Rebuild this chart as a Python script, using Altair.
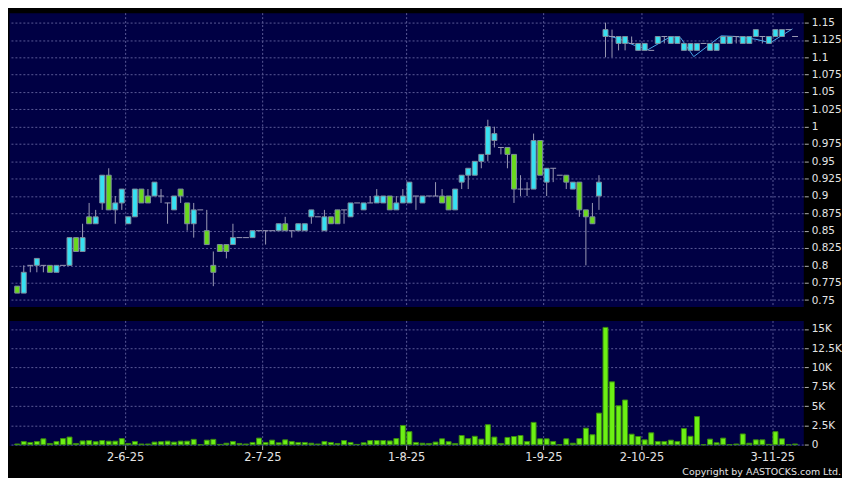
import altair as alt
import pandas as pd

# ---------------- data ----------------
opens = [0.77, 0.76, 0.80, 0.80, 0.80, 0.80, 0.79, 0.80, 0.80, 0.84,
         0.82, 0.87, 0.86, 0.89, 0.93, 0.88, 0.89, 0.86, 0.87, 0.91,
         0.90, 0.90, 0.90, 0.89, 0.88, 0.91, 0.89, 0.86, 0.88, 0.85,
         0.80, 0.83, 0.83, 0.83, 0.84, 0.84, 0.84, 0.85, 0.85, 0.85,
         0.85, 0.86, 0.85, 0.85, 0.85, 0.87, 0.87, 0.85, 0.87, 0.88,
         0.88, 0.87, 0.89, 0.88, 0.89, 0.89, 0.89, 0.90, 0.88, 0.89,
         0.89, 0.90, 0.89, 0.90, 0.90, 0.90, 0.90, 0.88, 0.92, 0.93,
         0.93, 0.95, 0.96, 0.98, 0.97, 0.97, 0.96, 0.91, 0.91, 0.91,
         0.98, 0.92, 0.94, 0.93, 0.93, 0.91, 0.92, 0.88, 0.87, 0.90,
         1.13, 1.13, 1.12, 1.12, 1.12, 1.11, 1.11, 1.11, 1.12, 1.13,
         1.12, 1.12, 1.11, 1.11, 1.11, 1.12, 1.11, 1.11, 1.12, 1.12,
         1.13, 1.12, 1.12, 1.13, 1.13, 1.12, 1.13, 1.13, 1.14, 1.13]
closes = [0.76, 0.79, 0.80, 0.81, 0.80, 0.79, 0.80, 0.80, 0.84, 0.82,
          0.84, 0.86, 0.87, 0.93, 0.88, 0.89, 0.91, 0.87, 0.91, 0.89,
          0.89, 0.92, 0.90, 0.89, 0.90, 0.90, 0.86, 0.88, 0.88, 0.83,
          0.79, 0.82, 0.82, 0.84, 0.84, 0.84, 0.85, 0.85, 0.85, 0.85,
          0.86, 0.85, 0.85, 0.86, 0.86, 0.88, 0.87, 0.87, 0.86, 0.86,
          0.88, 0.89, 0.89, 0.89, 0.89, 0.90, 0.90, 0.88, 0.89, 0.90,
          0.92, 0.90, 0.90, 0.90, 0.90, 0.89, 0.88, 0.91, 0.93, 0.94,
          0.95, 0.96, 1.00, 0.99, 0.97, 0.96, 0.91, 0.91, 0.91, 0.98,
          0.93, 0.94, 0.94, 0.93, 0.92, 0.92, 0.88, 0.87, 0.86, 0.92,
          1.14, 1.13, 1.13, 1.13, 1.12, 1.12, 1.12, 1.11, 1.13, 1.13,
          1.13, 1.13, 1.12, 1.12, 1.12, 1.12, 1.12, 1.12, 1.13, 1.13,
          1.13, 1.13, 1.13, 1.14, 1.13, 1.13, 1.14, 1.14, 1.14, 1.13]
highs = [0.77, 0.80, 0.80, 0.81, 0.80, 0.80, 0.80, 0.80, 0.84, 0.84,
         0.86, 0.89, 0.88, 0.93, 0.94, 0.90, 0.91, 0.87, 0.91, 0.91,
         0.91, 0.92, 0.91, 0.89, 0.90, 0.91, 0.89, 0.89, 0.88, 0.88,
         0.82, 0.83, 0.83, 0.86, 0.84, 0.84, 0.85, 0.85, 0.85, 0.85,
         0.86, 0.87, 0.85, 0.86, 0.86, 0.88, 0.87, 0.88, 0.87, 0.88,
         0.88, 0.89, 0.89, 0.89, 0.90, 0.91, 0.90, 0.90, 0.90, 0.91,
         0.92, 0.90, 0.90, 0.90, 0.92, 0.91, 0.90, 0.91, 0.93, 0.94,
         0.95, 0.96, 1.01, 1.00, 0.97, 0.97, 0.96, 0.93, 0.92, 0.99,
         0.98, 0.94, 0.94, 0.93, 0.93, 0.92, 0.92, 0.88, 0.89, 0.93,
         1.15, 1.14, 1.13, 1.13, 1.13, 1.12, 1.12, 1.11, 1.13, 1.13,
         1.13, 1.13, 1.12, 1.12, 1.12, 1.12, 1.12, 1.12, 1.13, 1.13,
         1.13, 1.13, 1.13, 1.14, 1.13, 1.13, 1.14, 1.14, 1.14, 1.13]
lows = [0.76, 0.76, 0.79, 0.79, 0.79, 0.79, 0.79, 0.80, 0.80, 0.82,
        0.82, 0.86, 0.86, 0.88, 0.88, 0.86, 0.88, 0.86, 0.87, 0.89,
        0.89, 0.90, 0.89, 0.86, 0.88, 0.89, 0.85, 0.84, 0.88, 0.83,
        0.77, 0.82, 0.81, 0.83, 0.84, 0.84, 0.84, 0.85, 0.83, 0.85,
        0.85, 0.85, 0.84, 0.85, 0.85, 0.86, 0.87, 0.85, 0.86, 0.86,
        0.86, 0.87, 0.89, 0.88, 0.89, 0.89, 0.89, 0.88, 0.88, 0.89,
        0.89, 0.88, 0.89, 0.90, 0.90, 0.89, 0.88, 0.88, 0.91, 0.91,
        0.93, 0.94, 0.95, 0.97, 0.96, 0.94, 0.89, 0.90, 0.90, 0.91,
        0.93, 0.90, 0.92, 0.93, 0.91, 0.91, 0.87, 0.80, 0.86, 0.88,
        1.10, 1.10, 1.11, 1.11, 1.12, 1.11, 1.11, 1.11, 1.12, 1.12,
        1.12, 1.12, 1.11, 1.11, 1.11, 1.12, 1.11, 1.11, 1.12, 1.12,
        1.12, 1.12, 1.12, 1.13, 1.12, 1.12, 1.13, 1.13, 1.14, 1.13]
volumes = [100, 430, 300, 430, 770, 170, 430, 800, 1000, 170,
           500, 550, 400, 550, 470, 470, 800, 170, 430, 100,
           100, 350, 400, 470, 350, 470, 470, 700, 0, 600,
           700, 50, 200, 430, 170, 100, 300, 860, 300, 600,
           260, 640, 430, 300, 300, 200, 100, 430, 300, 170,
           550, 300, 50, 260, 550, 550, 550, 500, 800, 2500,
           1700, 300, 200, 170, 350, 770, 400, 170, 1200, 800,
           1100, 730, 2600, 1000, 170, 950, 1070, 1200, 430, 2900,
           770, 770, 430, 0, 770, 200, 800, 2150, 1300, 4100,
           15200, 8150, 5050, 5800, 1370, 1070, 640, 1550, 430, 430,
           600, 430, 2100, 1100, 3650, 0, 730, 260, 860, 20,
           100, 1400, 200, 640, 640, 50, 1700, 770, 0, 100]

# thin light-blue line in the last section (index, price)
line_idx = [90, 92, 94.5, 96.5, 100, 101.5, 103.5, 107.7, 110, 113, 115.2, 118.6]
line_val = [1.132, 1.127, 1.117, 1.111, 1.130, 1.128, 1.101, 1.131, 1.130, 1.126, 1.121, 1.141]

tick_pos = [16.5, 37.5, 59.5, 80.5, 95.5, 115.5]
tick_labels = ["2-6-25", "2-7-25", "1-8-25", "1-9-25", "2-10-25", "3-11-25"]
price_ticks = [0.75, 0.775, 0.8, 0.825, 0.85, 0.875, 0.9, 0.925, 0.95, 0.975,
               1.0, 1.025, 1.05, 1.075, 1.1, 1.125, 1.15]
vol_ticks = [0, 2500, 5000, 7500, 10000, 12500, 15000]
copyright_text = "Copyright by AASTOCKS.com Ltd."

# ---------------- styles ----------------
BG = "#000000"
PANEL = "#000044"
GRID = "#5a5a96"
LABEL = "#e4e4e4"
CYAN = "#36e0f2"
GREEN = "#6ad81e"
EDGE = "#7d8c9c"
WICK = "#9a9ab4"
VOLFILL = "#6cf014"
VOLEDGE = "#3a8a10"
LINE = "#4aa6e6"
FONT = "DejaVu Sans"

df = pd.DataFrame({"i": list(range(len(opens))), "open": opens, "high": highs,
                   "low": lows, "close": closes, "vol": volumes})
line_df = pd.DataFrame({"i": line_idx, "v": line_val})

xscale = alt.Scale(domain=[-0.5, 119.5], nice=False, zero=False)
pscale = alt.Scale(domain=[0.7406, 1.1644], nice=False, zero=False)
vscale = alt.Scale(domain=[-100, 16100], nice=False, zero=False)

grid_x_axis = alt.Axis(values=tick_pos, labels=False, ticks=False, domain=False,
                       grid=True, gridColor=GRID, gridDash=[2, 2], title=None)
price_axis = alt.Axis(orient="right", values=price_ticks, labelExpr="'' + datum.value",
                      grid=True, gridColor=GRID, gridDash=[2, 2], domain=False, tickSize=4,
                      tickColor="#b0b0b0", labelPadding=3, labelFontSize=10.5,
                      labelColor=LABEL, labelFont=FONT, title=None, offset=1,
                      labelOverlap=False, labelBound=False)

base = alt.Chart(df)

wicks = base.transform_filter("datum.high > datum.low").mark_rule(
    color=WICK, strokeWidth=1).encode(
    x=alt.X("i:Q", scale=xscale, axis=grid_x_axis),
    y=alt.Y("low:Q", scale=pscale, axis=price_axis),
    y2="high:Q")

bodies = base.transform_filter("datum.open != datum.close").transform_calculate(
    dir="datum.close > datum.open ? 'up' : 'down'").mark_bar(
    size=5, stroke=EDGE, strokeWidth=1).encode(
    x=alt.X("i:Q", scale=xscale, axis=grid_x_axis),
    y=alt.Y("open:Q", scale=pscale, axis=price_axis),
    y2="close:Q",
    color=alt.Color("dir:N", scale=alt.Scale(domain=["up", "down"], range=[CYAN, GREEN]),
                    legend=None))

dojis = base.transform_filter("datum.open == datum.close").transform_calculate(
    xl="datum.i - 0.45", xr="datum.i + 0.45").mark_rule(
    color=WICK, strokeWidth=1).encode(
    x=alt.X("xl:Q", scale=xscale, axis=grid_x_axis),
    x2="xr:Q",
    y=alt.Y("open:Q", scale=pscale, axis=price_axis))

pline = alt.Chart(line_df).mark_line(color=LINE, strokeWidth=1).encode(
    x=alt.X("i:Q", scale=xscale, axis=grid_x_axis),
    y=alt.Y("v:Q", scale=pscale, axis=price_axis))

price = alt.layer(wicks, pline, bodies, dojis).properties(width=800, height=296)

label_expr = " : ".join(f"datum.value == {p} ? '{l}'" for p, l in zip(tick_pos, tick_labels)) + " : ''"

vol_bars = alt.Chart(df).mark_bar(size=5, color=VOLFILL, stroke=VOLEDGE, strokeWidth=1).encode(
    x=alt.X("i:Q", scale=xscale,
            axis=alt.Axis(values=tick_pos, labelExpr=label_expr, grid=True, gridColor=GRID,
                          gridDash=[2, 2], domain=False, tickSize=4, tickColor="#b0b0b0",
                          labelPadding=2, labelFontSize=11.5, labelColor=LABEL,
                          labelFont=FONT, title=None, labelFlush=False,
                          labelOverlap=False)),
    y=alt.Y("vol:Q", scale=vscale,
            axis=alt.Axis(orient="right", values=vol_ticks,
                          labelExpr="datum.value == 0 ? '0' : format(datum.value / 1000, '~g') + 'K'",
                          grid=True, gridColor=GRID, gridDash=[2, 2], domain=False,
                          tickSize=4, tickColor="#b0b0b0", labelPadding=3,
                          labelFontSize=10.5, labelColor=LABEL, labelFont=FONT,
                          title=None, offset=1, labelOverlap=False)))

copyright_mark = alt.Chart(pd.DataFrame({"t": [copyright_text]})).mark_text(
    align="right", baseline="alphabetic", fontSize=9.5, font=FONT, color=LABEL).encode(
    text="t:N", x=alt.value(838), y=alt.value(156))

volume = alt.layer(vol_bars, copyright_mark).properties(width=800, height=126)

chart = alt.vconcat(price, volume, spacing=12).properties(
    padding={"left": 0, "top": 2, "right": 0, "bottom": 0},
    background=BG
).configure_view(fill=PANEL, stroke="transparent")

chart.save("out.html", embed_options={"renderer": "svg", "actions": False})
